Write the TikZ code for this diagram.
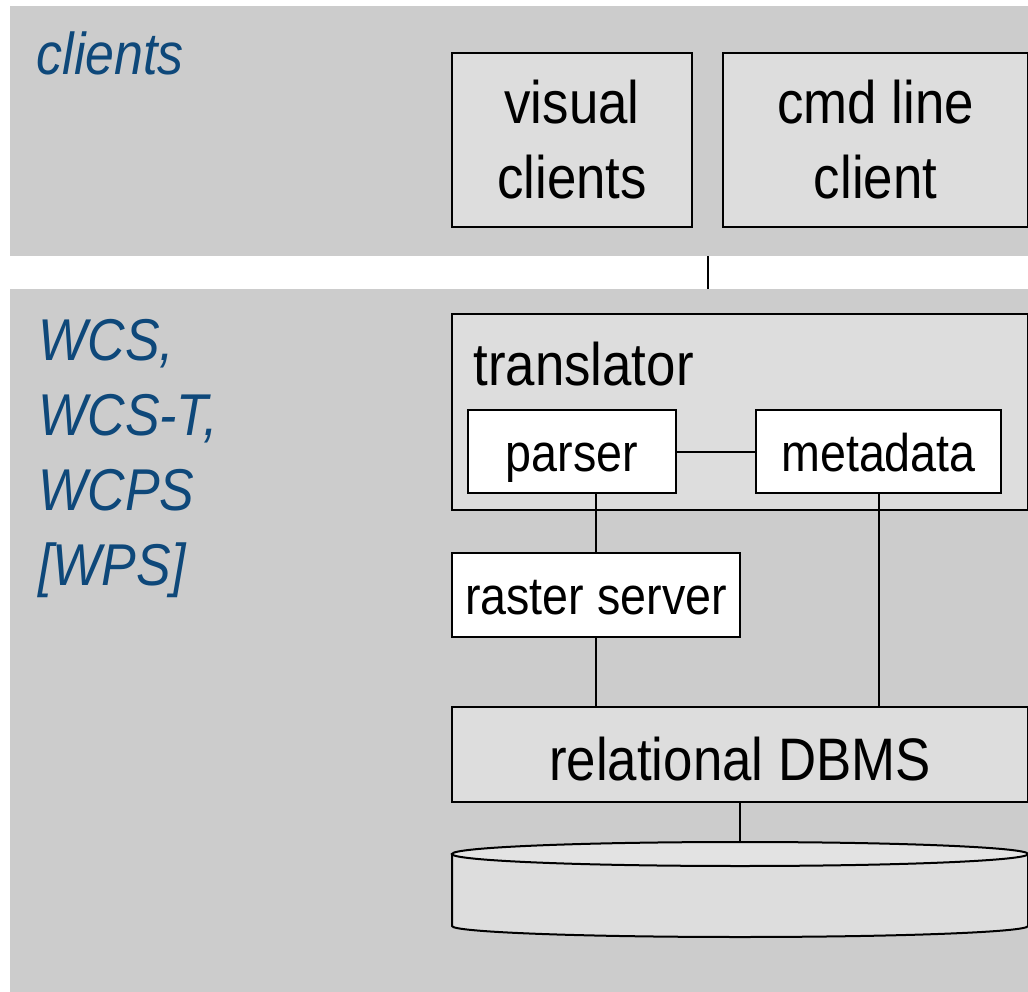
\documentclass[tikz,border=0pt]{standalone}
\usepackage{fontspec}
\setmainfont{Liberation Sans}[FakeStretch=0.88]
\usepackage{tikz}
\usetikzlibrary{positioning}
\definecolor{bandgray}{RGB}{204,204,204}
\definecolor{boxgray}{RGB}{221,221,221}
\definecolor{diskgray}{RGB}{227,227,227}
\definecolor{labelblue}{RGB}{14,72,122}
\tikzset{
  band/.style={fill=bandgray, draw=none, inner sep=0pt, anchor=north west},
  graybox/.style={draw=black, fill=boxgray, line width=2pt, inner sep=0pt, align=center,
    font=\fontsize{60}{75}\selectfont},
  whitebox/.style={draw=black, fill=white, line width=2pt, inner sep=0pt, align=center,
    text height=39pt, text depth=0pt, font=\fontsize{53}{64}\selectfont},
  tierlabel/.style={text=labelblue, anchor=base west, align=left,
    font=\fontsize{59}{75}\selectfont\itshape},
  link/.style={line width=2pt}
}
\begin{document}
\begin{tikzpicture}[x=1pt, y=-1pt]
\useasboundingbox[fill=white] (0,0) rectangle (1028,992);
\node[band, minimum width=1018pt, minimum height=250pt] (clientband) at (10,6) {};
\node[band, minimum width=1018pt, minimum height=703pt] (serverband) at (10,289) {};
\node[tierlabel] (clientlabel) at (33,75) {clients};
\node[tierlabel] (serverlabel) at (35,585) {WCS,\\WCS-T,\\WCPS\\{}[WPS]};
\node[graybox, minimum width=240pt, minimum height=174pt] (visual) at (572,140) {visual\\clients};
\node[graybox, minimum width=305pt, minimum height=174pt] (cmdline) at (875.5,140) {cmd line\\client};
\node[graybox, minimum width=576pt, minimum height=196pt] (translator) at (740,412) {};
\node[anchor=base west, font=\fontsize{60}{75}\selectfont] (translabel) at (470,385) {translator};
\node[whitebox, minimum width=208pt, minimum height=83pt] (parser) at (572,451.5) {parser};
\node[whitebox, minimum width=245pt, minimum height=83pt] (metadata) at (878.5,451.5) {metadata};
\node[whitebox, minimum width=288pt, minimum height=84pt] (raster) at (596,595) {raster server};
\node[graybox, minimum width=576pt, minimum height=95pt, text height=51pt, text depth=0pt] (dbms) at (740,754.5) {relational DBMS};
% database
\coordinate (disktop) at (740,854);
\filldraw[line width=2pt, fill=boxgray] (452,854) -- (452,926) arc[start angle=180, end angle=360, x radius=288pt, y radius=11pt] -- (1028,854) -- cycle;
\filldraw[line width=2pt, fill=diskgray] (disktop) ellipse[x radius=288pt, y radius=12pt];
\coordinate (tap) at (708,0);
\draw[link] (clientband.south -| tap) -- (serverband.north -| tap);
\draw[link] (parser.east) -- (metadata.west);
\draw[link] (parser.south -| raster.north) -- (raster.north);
\draw[link] (raster.south) -- (raster.south |- dbms.north);
\draw[link] (metadata.south) -- (metadata.south |- dbms.north);
\draw[link] (dbms.south) -- ([yshift=12pt]disktop);
\end{tikzpicture}
\end{document}
